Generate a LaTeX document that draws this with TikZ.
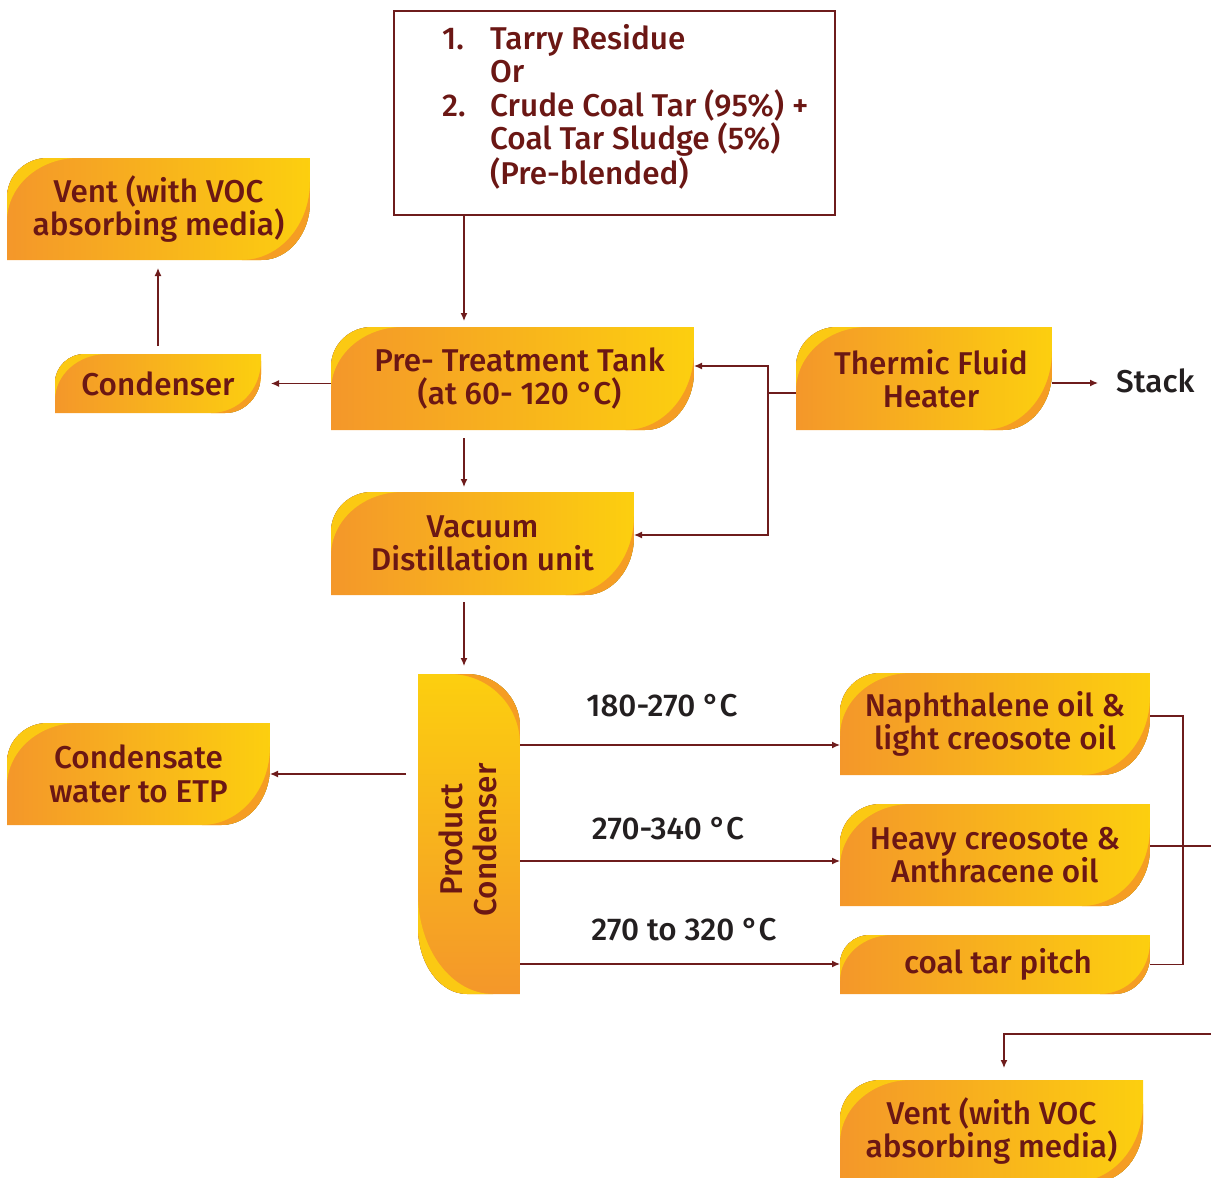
\documentclass[tikz,border=0pt]{standalone}
\usepackage{fontspec}
\setmainfont{Fira Sans Medium}
\usetikzlibrary{arrows.meta}
\definecolor{dred}{HTML}{6B1714}
\definecolor{org}{HTML}{F4972A}
\definecolor{yel}{HTML}{FCCF0F}
\definecolor{yeltwo}{HTML}{FBC913}
\definecolor{orgtwo}{HTML}{F59D23}
\definecolor{lab}{HTML}{231F20}
\definecolor{lnc}{HTML}{6E1C1C}
\tikzset{
  boxarea/.style={inner sep=0pt, outer sep=0pt, draw=none},
  boxtext/.style={text=dred, align=center, font=\fontsize{31.5}{33.5}\selectfont, inner sep=0pt},
  lbl/.style={text=lab, font=\fontsize{31.5}{33.5}\selectfont, inner sep=0pt},
  conn/.style={draw=lnc, line width=1.3pt},
  arr/.style={conn, -{Latex[length=8pt,width=7pt]}},
}
\newcommand{\obox}[7][0]{%
  \pgfmathsetmacro{\obH}{#6-#4}%
  \pgfmathsetmacro{\obTa}{0.25*\obH+15}%
  \pgfmathsetmacro{\obTb}{0.25*\obH+14}%
  \pgfmathsetmacro{\obBa}{0.3*\obH+18}%
  \pgfmathsetmacro{\obBb}{0.45*\obH+12}%
  \pgfmathsetmacro{\obIa}{1.75*\obTa}%
  \pgfmathsetmacro{\obIb}{1.6*\obTb}%
  \pgfmathsetmacro{\obJa}{1.4*\obBa}%
  \pgfmathsetmacro{\obJb}{1.35*\obBb}%
  \def\obK{0.5523}%
  \begin{scope}
    \path[clip] (#3,#6) -- (#3,#4+\obTb) .. controls (#3,{#4+\obTb*(1-\obK)}) and ({#3+\obTa*(1-\obK)},#4) .. (#3+\obTa,#4) -- (#5,#4) -- (#5,#6-\obBb) .. controls (#5,{#6-\obBb*(1-\obK)}) and ({#5-\obBa*(1-\obK)},#6) .. (#5-\obBa,#6) -- cycle;
    \fill[left color=org, right color=yel] (#3,#4) rectangle (#5,#6);
    \fill[yeltwo] (#3,#4) -- (#3+\obIa,#4) .. controls ({#3+\obIa*(1-\obK)},#4) and (#3,{#4+\obIb*(1-\obK)}) .. (#3,#4+\obIb) -- cycle;
    \fill[orgtwo] (#5,#6) -- (#5,#6-\obJb) .. controls (#5,{#6-\obJb*(1-\obK)}) and ({#5-\obJa*(1-\obK)},#6) .. (#5-\obJa,#6) -- cycle;
  \end{scope}
  \node[boxarea, minimum width={(#5-#3)*1pt}, minimum height={(#6-#4)*1pt}] (#2) at ({(#3+#5)/2},{(#4+#6)/2}) {};
  \node[boxtext, xshift=#1pt] (#2-t) at (#2) {#7};
}
\begin{document}
\begin{tikzpicture}[x=1pt,y=-1pt]
\useasboundingbox (0,0) rectangle (1211,1178);

% source box
\node[draw=lnc, line width=1.3pt, minimum width=441pt, minimum height=204pt, inner sep=0pt] (src) at (614.5,113) {};
\node[boxtext, align=left, anchor=north west] (src-t) at (442,24)
 {\makebox[48pt][l]{1.}Tarry Residue\\
  \hspace*{48pt}Or\\
  \makebox[48pt][l]{2.}Crude Coal Tar (95\%) +\\
  \hspace*{48pt}Coal Tar Sludge (5\%)\\
  \hspace*{48pt}(Pre-blended)};

\obox{vent}{7}{158}{310}{260}{Vent (with VOC\\absorbing media)}
\obox{cond}{55}{354}{261}{413}{Condenser}
\obox[7]{pre}{331}{327}{694}{430}{Pre- Treatment Tank\\(at 60- 120 °C)}
\obox[7]{therm}{796}{327}{1052}{430}{Thermic Fluid\\Heater}
\obox{vac}{331}{492}{634}{595}{Vacuum\\Distillation unit}
\obox{cws}{7}{723}{270}{825}{Condensate\\water to ETP}
\obox{naph}{840}{673}{1150}{775}{Naphthalene oil \&\\light creosote oil}
\obox{heavy}{840}{804}{1150}{906}{Heavy creosote \&\\Anthracene oil}
\obox[3]{pitch}{840}{935}{1150}{994}{coal tar pitch}
\obox{venttwo}{840}{1080}{1143}{1182}{Vent (with VOC\\absorbing media)}

% product condenser (vertical)
\begin{scope}
  \path[clip] (418,674) -- ({520-53},674) .. controls ({520-53*0.4477},674) and (520,{674+53*0.4477}) .. (520,{674+53}) -- (520,994) -- ({418+49},994) .. controls ({418+49*0.4477},994) and (418,{994-67*0.4477}) .. (418,{994-67}) -- cycle;
  \fill[top color=yel, bottom color=org] (418,674) rectangle (520,994);
  \fill[orgtwo] (520,674) -- ({520-70},674) .. controls ({520-70*0.4477},674) and (520,{674+70*0.4477}) .. (520,{674+70}) -- cycle;
  \fill[yeltwo] (418,994) -- (418,{994-100}) .. controls (418,{994-100*0.4477}) and ({418+75*0.4477},994) .. ({418+75},994) -- cycle;
\end{scope}
\node[boxarea, minimum width=102pt, minimum height=320pt] (pc) at (469,834) {};
\node[boxtext, rotate=90] (pc-t) at (468,840) {Product\\Condenser};

% labels
\node[lbl, anchor=west] (stack) at (1116,381) {Stack};
\node[lbl] (t1) at (662,706) {180-270 °C};
\node[lbl] (t2) at (668,829) {270-340 °C};
\node[lbl] (t3) at (684,930) {270 to 320 °C};

% connectors
\coordinate (sp) at (464,0);
\draw[arr, shorten >=6pt] (src.south -| sp) -- (pre.north -| sp);
\draw[arr, shorten >=10pt] (pre.west |- cond.east) -- (cond.east);
\draw[arr, shorten <=8pt, shorten >=8pt] (cond.north) -- (vent.south -| cond.north);
\draw[arr, shorten <=8pt, shorten >=5pt] (pre.south -| sp) -- (vac.north -| sp);
\coordinate (jn) at (768,393);
\coordinate (ja) at (768,366);
\coordinate (jb) at (768,535);
\draw[conn] (therm.west |- jn) -- (jn);
\draw[arr] (jn) -- (ja) -- (pre.east |- ja);
\draw[arr] (jn) -- (jb) -- (vac.east |- jb);
\coordinate (sy) at (0,383);
\draw[arr, shorten >=18pt] (therm.east |- sy) -- (stack.west |- sy);
\draw[arr, shorten <=7pt, shorten >=8pt] (vac.south -| sp) -- (pc.north -| sp);
\coordinate (cw) at (0,774);
\draw[arr, shorten <=12pt] (pc.west |- cw) -- (cws.east |- cw);
\coordinate (r1) at (0,745);
\coordinate (r2) at (0,861);
\coordinate (r3) at (0,964);
\draw[arr] (pc.east |- r1) -- (naph.west |- r1);
\draw[arr] (pc.east |- r2) -- (heavy.west |- r2);
\draw[arr] (pc.east |- r3) -- (pitch.west |- r3);
\coordinate (rx) at (1183,716);
\draw[conn] (naph.east |- rx) -- (rx) -- (rx |- pitch.east) -- (pitch.east);
\coordinate (hx) at (1211,846);
\draw[conn] (heavy.east |- hx) -- (hx);
\coordinate (bx) at (1211,1034);
\coordinate (bv) at (1004,1034);
\draw[arr, shorten >=12pt] (bx) -- (bv) -- (venttwo.north -| bv);
\end{tikzpicture}
\end{document}
